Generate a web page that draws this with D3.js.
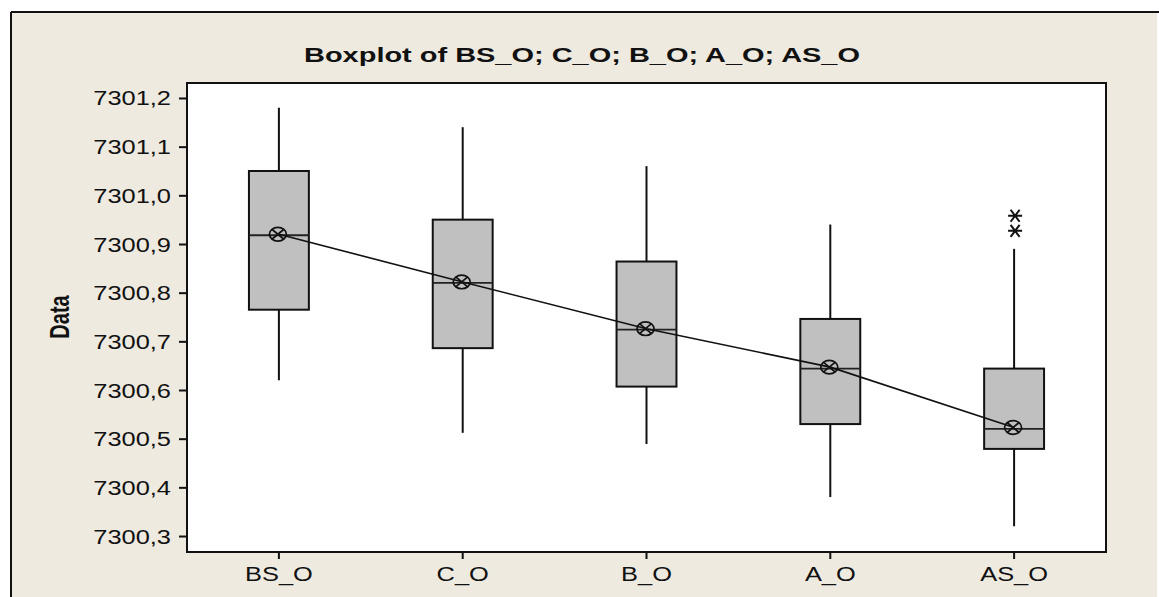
<!DOCTYPE html>
<html>
<head>
<meta charset="utf-8">
<script src="https://cdn.jsdelivr.net/npm/d3@7"></script>
<style>
  html, body { margin: 0; padding: 0; background: #ffffff; }
  svg { display: block; }
  text { font-family: "Liberation Sans", Arial, sans-serif; fill: #111; }
</style>
</head>
<body>
<svg id="chart" width="1159" height="597"></svg>
<script>
// ---- data ----
const categories   = ["BS_O", "C_O", "B_O", "A_O", "AS_O"];
const whiskerHigh  = [7301.18, 7301.14, 7301.06, 7300.94, 7300.89];
const q3Values     = [7301.05, 7300.95, 7300.864, 7300.746, 7300.644];
const medianValues = [7300.918, 7300.82, 7300.724, 7300.644, 7300.52];
const q1Values     = [7300.765, 7300.686, 7300.607, 7300.53, 7300.479];
const whiskerLow   = [7300.62, 7300.512, 7300.489, 7300.38, 7300.32];
const meanValues   = [7300.92, 7300.822, 7300.726, 7300.647, 7300.523];
const outlierCats  = ["AS_O", "AS_O"];
const outlierVals  = [7300.958, 7300.927];
const yTicks       = [7300.3, 7300.4, 7300.5, 7300.6, 7300.7, 7300.8, 7300.9, 7301.0, 7301.1, 7301.2];
const titleText    = "Boxplot of BS_O; C_O; B_O; A_O; AS_O";
const yAxisTitle   = "Data";

// ---- layout ----
const W = 1159, H = 597;
const plot = { left: 187, top: 83, right: 1106, bottom: 552 };
const sx = 1.27; // horizontal stretch of text seen in reference

const svg = d3.select("#chart");

// outer frame
svg.append("rect").attr("x", 11).attr("y", 12).attr("width", 1146).attr("height", H)
  .attr("fill", "#EEEAE0");
svg.append("line").attr("x1", 11).attr("x2", W).attr("y1", 12).attr("y2", 12)
  .attr("stroke", "#111").attr("stroke-width", 2);
svg.append("line").attr("x1", 11).attr("x2", 11).attr("y1", 12).attr("y2", H)
  .attr("stroke", "#111").attr("stroke-width", 2);

// plot area
svg.append("rect").attr("x", plot.left).attr("y", plot.top)
  .attr("width", plot.right - plot.left).attr("height", plot.bottom - plot.top)
  .attr("fill", "#ffffff").attr("stroke", "#111").attr("stroke-width", 2);

// scales
const x = d3.scaleBand().domain(categories).range([plot.left, plot.right]).padding(0);
const y = d3.scaleLinear().domain([7300.3 - 16 / 487.2, 7301.2 + 15 / 487.2])
  .range([plot.bottom, plot.top]);
const cx = c => x(c) + x.bandwidth() / 2;
const boxW = x.bandwidth() * 0.326;

// y axis
const yAxis = svg.append("g").attr("transform", `translate(${plot.left},0)`)
  .call(d3.axisLeft(y).tickValues(yTicks).tickSize(8).tickPadding(8)
    .tickFormat(d => d3.format(".1f")(d).replace(".", ",")));
yAxis.select(".domain").remove();
yAxis.selectAll(".tick line").attr("stroke", "#111").attr("stroke-width", 2);
yAxis.selectAll(".tick text")
  .attr("font-size", 20).attr("fill", "#111")
  .attr("font-family", "Liberation Sans, Arial, sans-serif")
  .attr("x", null).attr("dy", "0.35em")
  .attr("transform", `translate(-16,0) scale(${sx},1)`);

// x axis
const xAxis = svg.append("g").attr("transform", `translate(0,${plot.bottom})`)
  .call(d3.axisBottom(x).tickSize(7).tickPadding(8));
xAxis.select(".domain").remove();
xAxis.selectAll(".tick line").attr("stroke", "#111").attr("stroke-width", 2);
xAxis.selectAll(".tick text")
  .attr("font-size", 20).attr("fill", "#111")
  .attr("font-family", "Liberation Sans, Arial, sans-serif")
  .attr("y", null).attr("dy", null)
  .attr("transform", `translate(0,29) scale(${sx},1)`);

// boxes
const rows = categories.map((c, i) => ({
  c, lo: whiskerLow[i], q1: q1Values[i], med: medianValues[i],
  q3: q3Values[i], hi: whiskerHigh[i], mean: meanValues[i]
}));

const g = svg.append("g");
// whiskers
g.selectAll(".wh-top").data(rows).join("line")
  .attr("x1", d => cx(d.c)).attr("x2", d => cx(d.c))
  .attr("y1", d => y(d.hi)).attr("y2", d => y(d.q3))
  .attr("stroke", "#111").attr("stroke-width", 2);
g.selectAll(".wh-bot").data(rows).join("line")
  .attr("x1", d => cx(d.c)).attr("x2", d => cx(d.c))
  .attr("y1", d => y(d.q1)).attr("y2", d => y(d.lo))
  .attr("stroke", "#111").attr("stroke-width", 2);
// box
g.selectAll(".box").data(rows).join("rect")
  .attr("x", d => cx(d.c) - boxW / 2).attr("width", boxW)
  .attr("y", d => y(d.q3)).attr("height", d => y(d.q1) - y(d.q3))
  .attr("fill", "#C0C0C0").attr("stroke", "#111").attr("stroke-width", 2);
// median
g.selectAll(".med").data(rows).join("line")
  .attr("x1", d => cx(d.c) - boxW / 2).attr("x2", d => cx(d.c) + boxW / 2)
  .attr("y1", d => y(d.med)).attr("y2", d => y(d.med))
  .attr("stroke", "#222").attr("stroke-width", 1.8);

// mean connect line
g.append("path").datum(rows)
  .attr("d", d3.line().x(d => cx(d.c)).y(d => y(d.mean)))
  .attr("fill", "none").attr("stroke", "#111").attr("stroke-width", 1.6);

// mean symbols (circle with X)
const ms = g.selectAll(".mean").data(rows).join("g")
  .attr("transform", d => `translate(${cx(d.c) - 1},${y(d.mean)})`);
ms.append("ellipse").attr("rx", 8.5).attr("ry", 6.8)
  .attr("fill", "none").attr("stroke", "#111").attr("stroke-width", 1.7);
ms.append("path").attr("d", "M-6,-5L6,5M-6,5L6,-5")
  .attr("stroke", "#111").attr("stroke-width", 1.7);

// outliers (asterisks)
const outs = outlierVals.map((v, i) => ({ c: outlierCats[i], v }));
g.selectAll(".out").data(outs).join("path")
  .attr("transform", d => `translate(${cx(d.c) + 1},${y(d.v)})`)
  .attr("d", "M-7,0L7,0M-4.5,-6L4.5,6M-4.5,6L4.5,-6")
  .attr("stroke", "#111").attr("stroke-width", 2).attr("fill", "none");

// title
svg.append("text").text(titleText)
  .attr("x", 582).attr("y", 62).attr("text-anchor", "middle")
  .attr("font-size", 21).attr("font-weight", "bold")
  .attr("textLength", 556).attr("lengthAdjust", "spacingAndGlyphs");

// y axis title
svg.append("text").text(yAxisTitle)
  .attr("text-anchor", "middle").attr("font-size", 20).attr("font-weight", "bold")
  .attr("transform", `translate(69,317) scale(1.35,1) rotate(-90)`);
</script>
</body>
</html>
